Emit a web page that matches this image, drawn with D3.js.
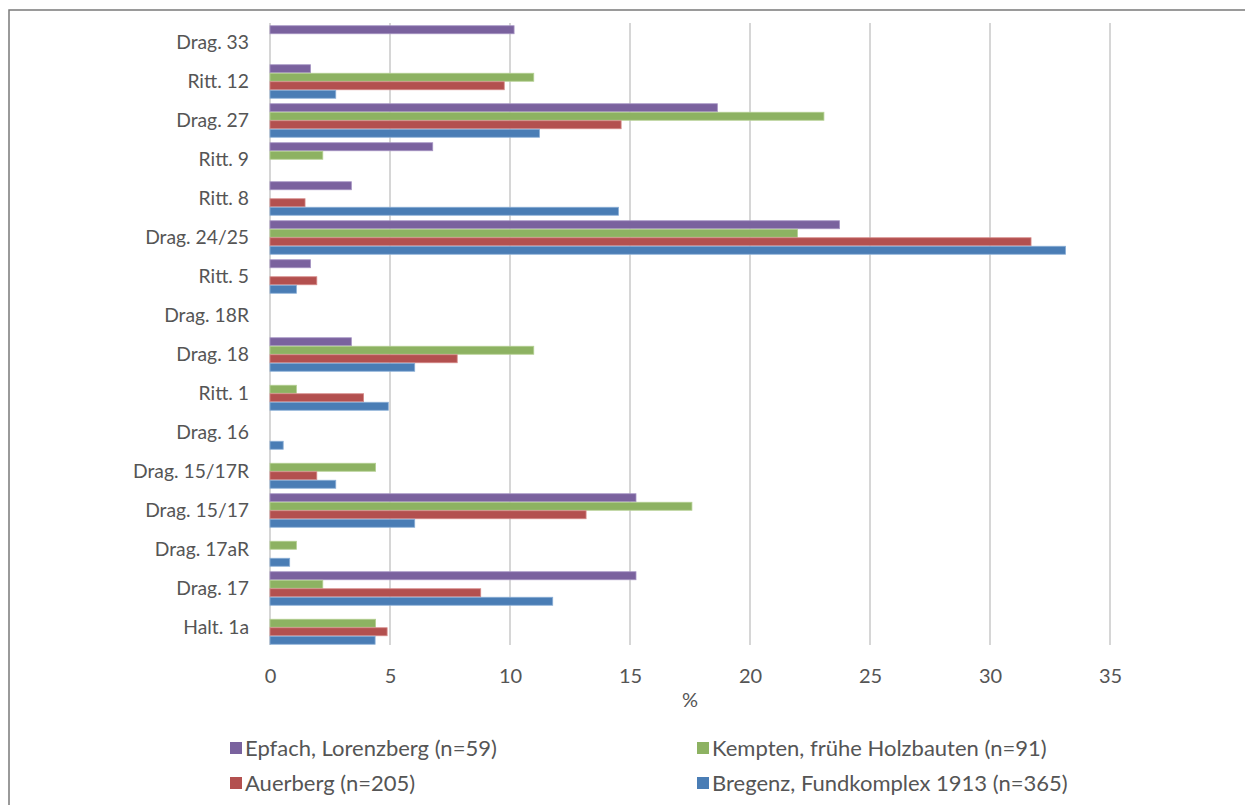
<!DOCTYPE html>
<html>
<head>
<meta charset="utf-8">
<script src="https://cdn.jsdelivr.net/npm/d3@7/dist/d3.min.js"></script>
<style>
  html, body { margin: 0; padding: 0; background: #fff; }
  svg { display: block; }
  text { font-family: Lato, "Noto Sans", sans-serif; fill: #555555; }
</style>
</head>
<body>
<svg id="chart" width="1245" height="805"></svg>
<script>
// Vessel forms (top to bottom)
const categories = ["Drag. 33", "Ritt. 12", "Drag. 27", "Ritt. 9", "Ritt. 8", "Drag. 24/25",
  "Ritt. 5", "Drag. 18R", "Drag. 18", "Ritt. 1", "Drag. 16", "Drag. 15/17R",
  "Drag. 15/17", "Drag. 17aR", "Drag. 17", "Halt. 1a"];

// Share of each form per site, in %
const epfach   = [10.17, 1.69, 18.64, 6.78, 3.39, 23.73, 1.69, 0, 3.39, 0, 0, 0, 15.25, 0, 15.25, 0];
const kempten  = [0, 10.99, 23.08, 2.20, 0, 21.98, 0, 0, 10.99, 1.10, 0, 4.40, 17.58, 1.10, 2.20, 4.40];
const auerberg = [0, 9.76, 14.63, 0, 1.46, 31.71, 1.95, 0, 7.80, 3.90, 0, 1.95, 13.17, 0, 8.78, 4.88];
const bregenz  = [0, 2.74, 11.23, 0, 14.52, 33.15, 1.10, 0, 6.03, 4.93, 0.55, 2.74, 6.03, 0.82, 11.78, 4.38];

const seriesNames = ["Epfach, Lorenzberg (n=59)", "Kempten, frühe Holzbauten (n=91)",
  "Auerberg (n=205)", "Bregenz, Fundkomplex 1913 (n=365)"];
const seriesColors = ["#7a629e", "#8db262", "#b3504f", "#4a7db5"];
const seriesStrokes = ["#a593c2", "#b4d092", "#d48987", "#8aaed6"];
const xTicks = [0, 5, 10, 15, 20, 25, 30, 35];
const xTitle = "%";

const seriesValues = [epfach, kempten, auerberg, bregenz];

const svg = d3.select("#chart");

// outer frame (only top and left edges fall inside the canvas)
svg.append("rect")
  .attr("x", 9).attr("y", 10)
  .attr("width", 1400).attr("height", 1000)
  .attr("fill", "none")
  .attr("stroke", "#7a7a7a")
  .attr("stroke-width", 1.5);

const plot = { left: 270, right: 1110, top: 23, bottom: 647 };

const x = d3.scaleLinear().domain([0, 35]).range([plot.left, plot.right]);
const y0 = d3.scaleBand().domain(categories).range([plot.top, plot.bottom])
  .paddingInner(0.128).paddingOuter(0.064);
const y1 = d3.scaleBand().domain(d3.range(4)).range([0, y0.bandwidth()]);

// vertical gridlines
svg.append("g")
  .selectAll("line")
  .data(xTicks)
  .join("line")
  .attr("x1", d => x(d)).attr("x2", d => x(d))
  .attr("y1", plot.top).attr("y2", plot.bottom - 2)
  .attr("stroke", "#d6d6d6")
  .attr("stroke-width", 2);

// bars
const groups = svg.append("g")
  .selectAll("g")
  .data(categories)
  .join("g")
  .attr("transform", d => `translate(0,${y0(d)})`);

groups.selectAll("rect")
  .data((c, i) => seriesValues.map((vals, s) => ({ s, v: vals[i] })).filter(d => d.v > 0))
  .join("rect")
  .attr("x", x(0))
  .attr("y", d => y1(d.s) + 0.25)
  .attr("width", d => x(d.v) - x(0))
  .attr("height", y1.bandwidth() - 0.5)
  .attr("fill", d => seriesColors[d.s])
  .attr("stroke", d => seriesStrokes[d.s])
  .attr("stroke-width", 0.8);

// category labels
const yAxis = d3.axisLeft(y0).tickSize(0).tickPadding(0);
const yg = svg.append("g")
  .attr("transform", `translate(${plot.left - 21},0)`)
  .call(yAxis);
yg.select(".domain").remove();
yg.selectAll("text")
  .attr("font-size", 19.3)
  .style("font-family", "Lato, 'Noto Sans', sans-serif")
  .attr("fill", "#555555");

// x tick labels
const xAxis = d3.axisBottom(x).tickValues(xTicks).tickSize(0).tickPadding(0).tickFormat(d3.format("d"));
const xg = svg.append("g")
  .attr("transform", `translate(0,${plot.bottom + 36})`)
  .call(xAxis);
xg.select(".domain").remove();
xg.selectAll("text")
  .attr("dy", 0)
  .attr("font-size", 20)
  .style("font-family", "Lato, 'Noto Sans', sans-serif")
  .attr("fill", "#555555");

// axis title
svg.append("text")
  .attr("x", (plot.left + plot.right) / 2)
  .attr("y", 707)
  .attr("text-anchor", "middle")
  .attr("font-size", 20)
  .text(xTitle);

// legend
const legendPos = [[230, 742], [697, 742], [230, 777], [697, 777]];
const legend = svg.append("g")
  .selectAll("g")
  .data(seriesNames)
  .join("g")
  .attr("transform", (d, i) => `translate(${legendPos[i][0]},${legendPos[i][1]})`);
legend.append("rect")
  .attr("width", 12).attr("height", 12)
  .attr("fill", (d, i) => seriesColors[i]);
legend.append("text")
  .attr("x", 15).attr("y", 14)
  .attr("font-size", 22)
  .text(d => d);
</script>
</body>
</html>
